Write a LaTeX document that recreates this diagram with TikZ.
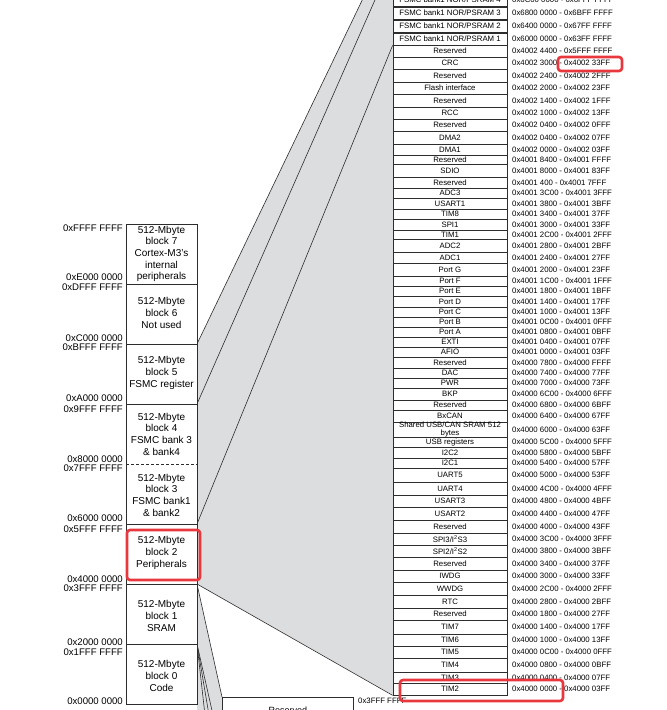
\documentclass[tikz,border=0pt]{standalone}
\usepackage{fontspec}
\setmainfont{Liberation Sans}
\definecolor{funnelgray}{RGB}{220,221,223}
\definecolor{hlred}{RGB}{232,56,61}
\definecolor{linegray}{RGB}{45,45,45}
\newcommand\memrow[5]{%
  \node[rowbox, minimum height={#3-#2}] (r#1) at (450,{(#2+#3)/2}) {#4};
  \node[addrtext] (a#1) at (512,{(#2+#3)/2}) {#5};}
\newcommand\leftlab[3]{\node[leftaddr] (#1) at (123,#2) {#3};}
\tikzset{
  rowbox/.style={draw=linegray, line width=0.7pt, fill=white, minimum width=114, inner sep=0pt, align=center, font=\fontsize{7.8}{7.6}\selectfont},
  addrtext/.style={anchor=west, inner sep=0pt, font=\fontsize{7.8}{8}\selectfont},
  leftaddr/.style={anchor=base east, inner sep=0pt, font=\fontsize{9.6}{10}\selectfont},
  blktext/.style={inner sep=0pt, align=center, font=\fontsize{10}{11.7}\selectfont},
  colline/.style={draw=linegray, line width=0.8pt},
  funline/.style={draw=linegray, line width=0.6pt},
  hl/.style={draw=hlred, line width=2.6pt, rounded corners=3pt}
}
\begin{document}
\begin{tikzpicture}[x=1pt,y=-1pt]
\useasboundingbox (0,0) rectangle (667,710);
\clip (0,0) rectangle (667,710);
% named points on the left column edge
\coordinate (e6) at (197,344);
\coordinate (e5) at (197,404);
\coordinate (e3) at (197,524);
\coordinate (e2) at (197,584);
\coordinate (e1) at (197,644);
\coordinate (top1) at (393,-64);
\coordinate (top2) at (393,-41);
\coordinate (bot1) at (205,715);
\coordinate (bot2) at (209,715);
\coordinate (bot3) at (213,715);
% gray funnel
\fill[funnelgray] (e6) -- (top1) -- (393,695) -- (e2) -- cycle;
\fill[funnelgray] (e2) -- (222,697) -- (222,715) -- (197,715) -- cycle;
% right column
\memrow{0}{-6}{6}{FSMC bank1 NOR/PSRAM 4}{0x6C00 0000 - 0x6FFF FFFF}
\memrow{1}{7}{19}{FSMC bank1 NOR/PSRAM 3}{0x6800 0000 - 0x6BFF FFFF}
\memrow{2}{20}{32}{FSMC bank1 NOR/PSRAM 2}{0x6400 0000 - 0x67FF FFFF}
\memrow{3}{33}{45}{FSMC bank1 NOR/PSRAM 1}{0x6000 0000 - 0x63FF FFFF}
\memrow{4}{45}{57}{Reserved}{0x4002 4400 - 0x5FFF FFFF}
\memrow{5}{57}{69}{CRC}{0x4002 3000 - 0x4002 33FF}
\memrow{6}{69}{82}{Reserved}{0x4002 2400 - 0x4002 2FFF}
\memrow{7}{82}{94}{Flash interface}{0x4002 2000 - 0x4002 23FF}
\memrow{8}{94}{107}{Reserved}{0x4002 1400 - 0x4002 1FFF}
\memrow{9}{107}{119}{RCC}{0x4002 1000 - 0x4002 13FF}
\memrow{10}{119}{131}{Reserved}{0x4002 0400 - 0x4002 0FFF}
\memrow{11}{131}{144}{DMA2}{0x4002 0400 - 0x4002 07FF}
\memrow{12}{144}{155}{DMA1}{0x4002 0000 - 0x4002 03FF}
\memrow{13}{155}{164}{Reserved}{0x4001 8400 - 0x4001 FFFF}
\memrow{14}{164}{177}{SDIO}{0x4001 8000 - 0x4001 83FF}
\memrow{15}{177}{188}{Reserved}{0x4001 400 - 0x4001 7FFF}
\memrow{16}{188}{198}{ADC3}{0x4001 3C00 - 0x4001 3FFF}
\memrow{17}{198}{209}{USART1}{0x4001 3800 - 0x4001 3BFF}
\memrow{18}{209}{219}{TIM8}{0x4001 3400 - 0x4001 37FF}
\memrow{19}{219}{230}{SPI1}{0x4001 3000 - 0x4001 33FF}
\memrow{20}{230}{239}{TIM1}{0x4001 2C00 - 0x4001 2FFF}
\memrow{21}{239}{252}{ADC2}{0x4001 2800 - 0x4001 2BFF}
\memrow{22}{252}{263}{ADC1}{0x4001 2400 - 0x4001 27FF}
\memrow{23}{263}{276}{Port G}{0x4001 2000 - 0x4001 23FF}
\memrow{24}{276}{286}{Port F}{0x4001 1C00 - 0x4001 1FFF}
\memrow{25}{286}{296}{Port E}{0x4001 1800 - 0x4001 1BFF}
\memrow{26}{296}{307}{Port D}{0x4001 1400 - 0x4001 17FF}
\memrow{27}{307}{317}{Port C}{0x4001 1000 - 0x4001 13FF}
\memrow{28}{317}{327}{Port B}{0x4001 0C00 - 0x4001 0FFF}
\memrow{29}{327}{337}{Port A}{0x4001 0800 - 0x4001 0BFF}
\memrow{30}{337}{347}{EXTI}{0x4001 0400 - 0x4001 07FF}
\memrow{31}{347}{357}{AFIO}{0x4001 0000 - 0x4001 03FF}
\memrow{32}{357}{368}{Reserved}{0x4000 7800 - 0x4000 FFFF}
\memrow{33}{368}{378}{DAC}{0x4000 7400 - 0x4000 77FF}
\memrow{34}{378}{388}{PWR}{0x4000 7000 - 0x4000 73FF}
\memrow{35}{388}{400}{BKP}{0x4000 6C00 - 0x4000 6FFF}
\memrow{36}{400}{410}{Reserved}{0x4000 6800 - 0x4000 6BFF}
\memrow{37}{410}{422}{BxCAN}{0x4000 6400 - 0x4000 67FF}
\memrow{38}{422}{437}{Shared USB/CAN SRAM 512\\bytes}{0x4000 6000 - 0x4000 63FF}
\memrow{39}{437}{447}{USB registers}{0x4000 5C00 - 0x4000 5FFF}
\memrow{40}{447}{458}{I2C2}{0x4000 5800 - 0x4000 5BFF}
\memrow{41}{458}{468}{I2C1}{0x4000 5400 - 0x4000 57FF}
\memrow{42}{468}{482}{UART5}{0x4000 5000 - 0x4000 53FF}
\memrow{43}{482}{495}{UART4}{0x4000 4C00 - 0x4000 4FFF}
\memrow{44}{495}{507}{USART3}{0x4000 4800 - 0x4000 4BFF}
\memrow{45}{507}{520}{USART2}{0x4000 4400 - 0x4000 47FF}
\memrow{46}{520}{533}{Reserved}{0x4000 4000 - 0x4000 43FF}
\memrow{47}{533}{545}{SPI3/I\textsuperscript{2}S3}{0x4000 3C00 - 0x4000 3FFF}
\memrow{48}{545}{557}{SPI2/I\textsuperscript{2}S2}{0x4000 3800 - 0x4000 3BFF}
\memrow{49}{557}{570}{Reserved}{0x4000 3400 - 0x4000 37FF}
\memrow{50}{570}{582}{IWDG}{0x4000 3000 - 0x4000 33FF}
\memrow{51}{582}{595}{WWDG}{0x4000 2C00 - 0x4000 2FFF}
\memrow{52}{595}{608}{RTC}{0x4000 2800 - 0x4000 2BFF}
\memrow{53}{608}{620}{Reserved}{0x4000 1800 - 0x4000 27FF}
\memrow{54}{620}{634}{TIM7}{0x4000 1400 - 0x4000 17FF}
\memrow{55}{634}{646}{TIM6}{0x4000 1000 - 0x4000 13FF}
\memrow{56}{646}{658}{TIM5}{0x4000 0C00 - 0x4000 0FFF}
\memrow{57}{658}{672}{TIM4}{0x4000 0800 - 0x4000 0BFF}
\memrow{58}{672}{683}{TIM3}{0x4000 0400 - 0x4000 07FF}
\memrow{59}{683}{695}{TIM2}{0x4000 0000 - 0x4000 03FF}
% funnel lines
\draw[funline] (e6) -- (top1);
\draw[funline] (e5) -- (top2);
\draw[funline] (e3) -- (r3.south west);
\draw[funline] (e2) -- (r59.south west);
% bottom reserved box
\node[draw=linegray, line width=0.7pt, fill=white, minimum width=131, minimum height=25, inner sep=0pt, anchor=north west, font=\fontsize{9}{10}\selectfont] (resbot) at (222,697) {Reserved};
\draw[funline] (e2) -- (resbot.north west);
\draw[funline] (e1) -- (bot1);
\draw[funline] (e1) -- (bot2);
\draw[funline] (e1) -- (bot3);
\node[addrtext] (lowaddr) at (358,701) {0x3FFF FFFF};
% left column
\filldraw[fill=white, colline] (126,224) rectangle (197,704);
\foreach \yy in {284,344,404,524,584,644} \draw[colline] (126,\yy) -- (197,\yy);
\draw[colline, dash pattern=on 3pt off 2pt] (126,464) -- (197,464);
\node[blktext] (b7) at (161.5,254) {512-Mbyte\\block 7\\Cortex-M3's\\internal\\peripherals};
\node[blktext] (b6) at (161.5,313) {512-Mbyte\\block 6\\Not used};
\node[blktext] (b5) at (161.5,373) {512-Mbyte\\block 5\\FSMC register};
\node[blktext] (b4) at (161.5,434) {512-Mbyte\\block 4\\FSMC bank 3\\\& bank4};
\node[blktext] (b3) at (161.5,495) {512-Mbyte\\block 3\\FSMC bank1\\\& bank2};
\node[blktext] (b2) at (161.5,553) {512-Mbyte\\block 2\\Peripherals};
\node[blktext] (b1) at (161.5,616) {512-Mbyte\\block 1\\SRAM};
\node[blktext] (b0) at (161.5,676) {512-Mbyte\\block 0\\Code};
% left addresses
\leftlab{l0}{231.5}{0xFFFF FFFF}
\leftlab{l1}{280.5}{0xE000 0000}
\leftlab{l2}{290}{0xDFFF FFFF}
\leftlab{l3}{341.5}{0xC000 0000}
\leftlab{l4}{350.5}{0xBFFF FFFF}
\leftlab{l5}{401.5}{0xA000 0000}
\leftlab{l6}{412}{0x9FFF FFFF}
\leftlab{l7}{462.5}{0x8000 0000}
\leftlab{l8}{471.5}{0x7FFF FFFF}
\leftlab{l9}{521.5}{0x6000 0000}
\leftlab{l10}{532.5}{0x5FFF FFFF}
\leftlab{l11}{582.5}{0x4000 0000}
\leftlab{l12}{591.5}{0x3FFF FFFF}
\leftlab{l13}{645}{0x2000 0000}
\leftlab{l14}{655}{0x1FFF FFFF}
\leftlab{l15}{704.5}{0x0000 0000}
% red highlights
\draw[hl] (127,530) rectangle (200,580);
\draw[hl] (558,57) rectangle (622,71);
\draw[hl] (400,680) rectangle (563,701);
\end{tikzpicture}
\end{document}
